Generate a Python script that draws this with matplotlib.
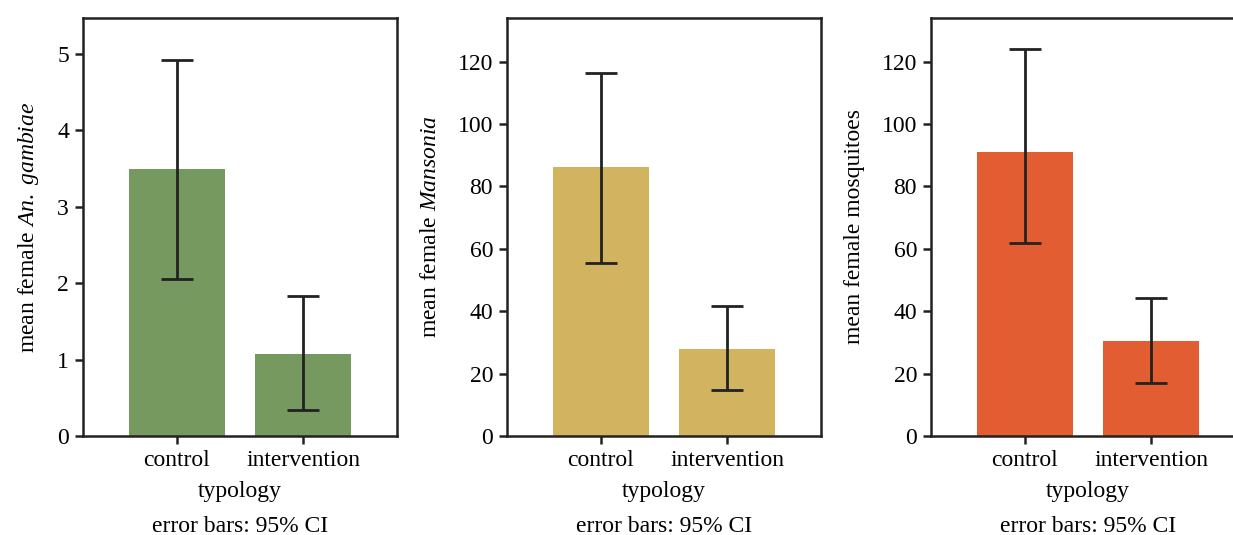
import numpy as np
import matplotlib.pyplot as plt

plt.rcParams['font.family'] = ['Liberation Serif', 'DejaVu Serif']
plt.rcParams['font.size'] = 17
plt.rcParams['mathtext.fontset'] = 'custom'
plt.rcParams['mathtext.it'] = 'Liberation Serif:italic'
plt.rcParams['mathtext.rm'] = 'Liberation Serif'

categories = ["control", "intervention"]

gambiae_mean = [3.50, 1.07]
gambiae_lo = [2.06, 0.34]
gambiae_hi = [4.92, 1.83]

mansonia_mean = [86.1, 28.0]
mansonia_lo = [55.6, 14.9]
mansonia_hi = [116.5, 41.7]

total_mean = [91.2, 30.4]
total_lo = [61.8, 17.1]
total_hi = [124.2, 44.3]

panels = [
    (gambiae_mean, gambiae_lo, gambiae_hi, "#76995f", r"mean female $\it{An.\ gambiae}$", 5.47, [0, 1, 2, 3, 4, 5]),
    (mansonia_mean, mansonia_lo, mansonia_hi, "#d2b460", r"mean female $\it{Mansonia}$", 134, [0, 20, 40, 60, 80, 100, 120]),
    (total_mean, total_lo, total_hi, "#e35d33", "mean female mosquitoes", 134, [0, 20, 40, 60, 80, 100, 120]),
]

fig = plt.figure(figsize=(12.33, 5.35), dpi=100)
lefts = [83, 507, 931]

for left, (mean, lo, hi, color, ylabel, ytop, yticks) in zip(lefts, panels):
    ax = fig.add_axes([left / 1233, 1 - 436 / 535, 314 / 1233, 418 / 535])
    x = np.arange(len(categories))
    mean = np.array(mean)
    err = [mean - np.array(lo), np.array(hi) - mean]
    ax.bar(x, mean, width=0.76, color=color, zorder=1)
    ax.errorbar(x, mean, yerr=err, fmt='none', ecolor='#222222',
                elinewidth=2.0, capsize=11.5, capthick=2.0, zorder=2)
    ax.set_xlim(-0.74, 1.74)
    ax.set_ylim(0, ytop)
    ax.set_yticks(yticks)
    ax.set_xticks(x)
    ax.set_xticklabels(categories)
    for sp in ax.spines.values():
        sp.set_linewidth(1.8)
        sp.set_color('#222222')
    ax.tick_params(direction='out', length=6, width=1.8, color='#222222', pad=4)
    ax.set_ylabel(ylabel, labelpad=12)
    ax.set_xlabel("typology\nerror bars: 95% CI", linespacing=1.9, labelpad=7)

fig.savefig("out.png", dpi=100)
